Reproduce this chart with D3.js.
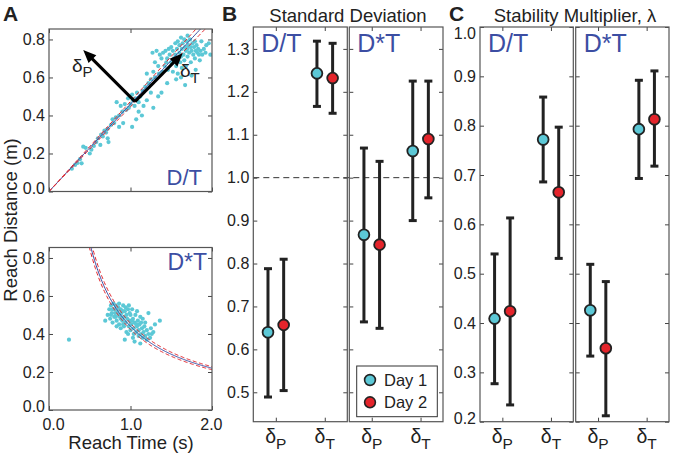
<!DOCTYPE html>
<html><head><meta charset="utf-8">
<script src="https://cdn.jsdelivr.net/npm/d3@7"></script>
<style>
body{margin:0;background:#fff;}
svg{display:block;font-family:"Liberation Sans",Arial,sans-serif;}
.tick text{font-size:16px;fill:#222;font-family:"Liberation Sans",Arial,sans-serif;}
.tick line{stroke:#444;}
</style></head>
<body><svg id="c" width="673" height="455"></svg>
<script>
// ---------- DATA ----------
// Panel A top (D/T): reach time (s), reach distance (m)
const dtPoints = [
[1.45,0.70],[1.48,0.72],[1.50,0.68],[1.52,0.74],[1.53,0.70],[1.55,0.72],[1.56,0.66],[1.57,0.75],[1.58,0.70],[1.60,0.73],
[1.60,0.77],[1.61,0.68],[1.62,0.71],[1.63,0.75],[1.64,0.78],[1.65,0.72],[1.66,0.69],[1.67,0.76],[1.68,0.74],[1.69,0.79],
[1.70,0.71],[1.70,0.75],[1.71,0.77],[1.72,0.73],[1.73,0.80],[1.74,0.76],[1.75,0.74],[1.76,0.78],[1.77,0.72],[1.78,0.76],
[1.79,0.79],[1.80,0.74],[1.81,0.77],[1.82,0.73],[1.83,0.75],[1.84,0.72],[1.86,0.74],[1.88,0.72],[1.90,0.75],[1.92,0.73],
[1.96,0.78],[1.98,0.72],[1.87,0.79],[1.58,0.79],[1.55,0.78],[1.50,0.76],[1.47,0.75],[1.43,0.74],[1.40,0.73],[1.38,0.70],
[1.36,0.72],[1.32,0.74],[1.27,0.73],[1.30,0.68],[1.34,0.66],[1.42,0.66],[1.46,0.64],[1.44,0.68],[1.39,0.63],[1.35,0.62],
[1.30,0.60],[1.25,0.59],[1.28,0.63],[1.22,0.57],[1.20,0.62],[1.18,0.55],[1.52,0.63],[1.58,0.62],[1.63,0.65],[1.68,0.66],
[1.74,0.68],[1.79,0.70],[1.75,0.61],[1.80,0.64],[1.67,0.56],[1.62,0.60],[1.38,0.52],[1.34,0.50],[1.45,0.57],[1.56,0.59],
[1.15,0.53],[1.12,0.50],[1.10,0.47],[1.08,0.52],[1.06,0.49],[1.05,0.45],[1.03,0.48],[1.02,0.51],[1.00,0.46],[0.98,0.44],
[0.97,0.49],[0.95,0.43],[0.93,0.46],[0.90,0.42],[0.88,0.45],[0.86,0.40],[0.83,0.47],[0.82,0.39],[0.80,0.36],[0.78,0.38],
[0.76,0.35],[1.02,0.34],[1.14,0.40],[1.28,0.44],[1.20,0.48],[1.16,0.45],[1.25,0.52],[1.10,0.42],[1.07,0.38],[0.91,0.36],
[0.86,0.34],[0.72,0.33],[0.73,0.26],[0.72,0.28],[0.70,0.31],[0.66,0.29],[0.63,0.245],[0.58,0.26],[0.55,0.24],[0.50,0.20],
[0.52,0.22],[0.45,0.23],[0.42,0.236],[0.40,0.148],[0.38,0.17],[0.35,0.15],[0.32,0.14],[0.28,0.12],[0.60,0.28],[0.64,0.30],[0.68,0.32],
[1.62,0.81],[1.70,0.82],[1.93,0.77],[1.85,0.69],[1.66,0.80]
];
// Panel A bottom (D*T)
const dstPoints = [
[0.245,0.37],
[0.69,0.47],[0.72,0.50],[0.74,0.53],[0.75,0.48],[0.76,0.55],[0.77,0.51],[0.78,0.46],[0.79,0.56],[0.80,0.53],[0.80,0.49],
[0.81,0.51],[0.82,0.55],[0.83,0.47],[0.84,0.52],[0.85,0.50],[0.85,0.54],[0.86,0.45],[0.87,0.49],[0.88,0.53],[0.88,0.43],
[0.89,0.51],[0.90,0.47],[0.91,0.55],[0.92,0.49],[0.92,0.44],[0.93,0.52],[0.94,0.46],[0.95,0.50],[0.95,0.41],[0.96,0.48],
[0.97,0.53],[0.98,0.44],[0.99,0.47],[1.00,0.50],[1.00,0.42],[1.01,0.45],[1.02,0.53],[1.03,0.48],[1.03,0.38],[1.04,0.43],
[1.05,0.46],[1.06,0.50],[1.07,0.41],[1.08,0.44],[1.09,0.47],[1.10,0.39],[1.10,0.42],[1.11,0.45],[1.12,0.35],[1.13,0.40],
[1.14,0.43],[1.15,0.38],[1.16,0.41],[1.17,0.44],[1.18,0.39],[1.20,0.37],[1.20,0.42],[1.22,0.40],[1.24,0.38],[1.25,0.43],
[1.28,0.41],[1.30,0.45],[1.36,0.47],[1.22,0.51],[1.15,0.48],[1.08,0.52],[0.98,0.55],[0.90,0.52],[0.83,0.44],[0.97,0.40],
[1.05,0.36],[0.93,0.37],[1.12,0.49],[1.18,0.46],[0.86,0.56],[0.78,0.53],[0.82,0.49],[0.94,0.54],[1.02,0.47],[1.07,0.45],
[1.13,0.46],[0.99,0.51],[0.88,0.48],[0.76,0.50],[1.26,0.40],[0.91,0.45],[1.04,0.40],[1.00,0.45]
];
// model lines: D = k*T (D/T) and D = c/T (D*T), with +/- bands
const dtSlopes = [0.460, 0.446, 0.474];   // centre, low, high
const dstConsts = [0.440, 0.424, 0.456];  // centre, low, high
// arrows (data coords): origin, tip P, tip T
const arrowOrigin = [1.055, 0.473];
const arrowTips = [[0.42, 0.745], [1.64, 0.727]];

const conditions = ["P", "T"]; // δP, δT
const dayLabels = ["Day 1", "Day 2"];

// Panel B: Standard Deviation
const sdDT_mean1 = [0.640, 1.243], sdDT_lo1 = [0.489, 1.166], sdDT_hi1 = [0.788, 1.318];
const sdDT_mean2 = [0.657, 1.232], sdDT_lo2 = [0.504, 1.150], sdDT_hi2 = [0.810, 1.313];
const sdDsT_mean1 = [0.867, 1.062], sdDsT_lo1 = [0.664, 0.900], sdDsT_hi1 = [1.069, 1.225];
const sdDsT_mean2 = [0.844, 1.090], sdDsT_lo2 = [0.649, 0.953], sdDsT_hi2 = [1.038, 1.225];
const sdTicks = [0.5, 0.6, 0.7, 0.8, 0.9, 1.0, 1.1, 1.2, 1.3];

// Panel C: Stability Multiplier
const lamDT_mean1 = [0.409, 0.772], lamDT_lo1 = [0.277, 0.686], lamDT_hi1 = [0.540, 0.858];
const lamDT_mean2 = [0.424, 0.665], lamDT_lo2 = [0.234, 0.531], lamDT_hi2 = [0.613, 0.797];
const lamDsT_mean1 = [0.426, 0.793], lamDsT_lo1 = [0.333, 0.693], lamDsT_hi1 = [0.519, 0.892];
const lamDsT_mean2 = [0.349, 0.813], lamDsT_lo2 = [0.212, 0.718], lamDsT_hi2 = [0.484, 0.911];
const lamTicks = [0.2, 0.3, 0.4, 0.5, 0.6, 0.7, 0.8, 0.9, 1.0];

const aYTicks = [0.0, 0.2, 0.4, 0.6, 0.8];
const aXTicks = [0.0, 1.0, 2.0];

// ---------- STYLE ----------
const CYAN = "#5cc8d6", RED = "#e4242b", BLUE = "#3c4ea3", INK = "#222", FRAME = "#555";
const svg = d3.select("#c");

function frame(g, xs, ys, opt) {
  const [x0, x1] = xs.range(), [yb, yt] = ys.range();
  const ax = (sel) => sel.select(".domain").remove();
  const ly = g.append("g").attr("transform", `translate(${x0},0)`)
    .call(d3.axisLeft(ys).tickValues(opt.yTicks).tickSize(-4).tickPadding(4)
      .tickFormat(opt.yLabels ? d3.format(".1f") : "")).call(ax);
  // keep edge labels inside the frame, as in the original
  const yd = ys.domain();
  ly.selectAll(".tick text").filter(d => Math.abs(ys(d) - yt) < 3).attr("dy", "0.72em");
  ly.selectAll(".tick text").filter(d => Math.abs(ys(d) - yb) < 3).attr("dy", "0.12em");
  g.append("g").attr("transform", `translate(${x1},0)`)
    .call(d3.axisRight(ys).tickValues(opt.yTicks).tickSize(-4).tickFormat("")).call(ax);
  const bx = g.append("g").attr("transform", `translate(0,${yb})`)
    .call(d3.axisBottom(xs).tickValues(opt.xTicks).tickSize(-4).tickPadding(9)
      .tickFormat(opt.xLabels ? d3.format(".1f") : "")).call(ax);
  g.append("g").attr("transform", `translate(0,${yt})`)
    .call(d3.axisTop(xs).tickValues(opt.xTicks).tickSize(-4).tickFormat("")).call(ax);
  g.append("rect").attr("x", x0).attr("y", yt).attr("width", x1 - x0).attr("height", yb - yt)
    .attr("fill", "none").attr("stroke", FRAME).attr("stroke-width", 1.2);
  return bx;
}

function panelLetter(x, y, t) {
  svg.append("text").attr("x", x).attr("y", y).attr("font-size", 21).attr("font-weight", "bold")
    .attr("fill", INK).text(t);
}

// ---------- PANEL A ----------
const ax = d3.scaleLinear().domain([0, 2]).range([49, 212]);
const ayTop = d3.scaleLinear().domain([0, 0.855]).range([191.5, 29]);
const ayBot = d3.scaleLinear().domain([0, 0.855]).range([410, 247.5]);

function clip(id, ys) {
  svg.append("clipPath").attr("id", id).append("rect")
    .attr("x", ax.range()[0]).attr("y", ys.range()[1])
    .attr("width", ax.range()[1] - ax.range()[0]).attr("height", ys.range()[0] - ys.range()[1]);
}
clip("clipTop", ayTop); clip("clipBot", ayBot);

const gTop = svg.append("g");
const gTopIn = gTop.append("g").attr("clip-path", "url(#clipTop)");
gTopIn.selectAll("circle").data(dtPoints).join("circle")
  .attr("cx", d => ax(d[0])).attr("cy", d => ayTop(d[1])).attr("r", 2.1).attr("fill", CYAN);
const tGrid = d3.range(0, 2.001, 0.02);
dtSlopes.forEach((k, i) => {
  gTopIn.append("path").datum(tGrid)
    .attr("d", d3.line().x(t => ax(t)).y(t => ayTop(k * t)))
    .attr("fill", "none").attr("stroke", i === 0 ? BLUE : RED).attr("stroke-width", 1)
    .attr("stroke-dasharray", i === 0 ? null : "4,2.5");
});
frame(gTop, ax, ayTop, {yTicks: aYTicks, xTicks: aXTicks, yLabels: true, xLabels: false});

// arrows
function arrow(g, from, to) {
  const x0 = ax(from[0]), y0 = ayTop(from[1]), x1 = ax(to[0]), y1 = ayTop(to[1]);
  const dx = x1 - x0, dy = y1 - y0, L = Math.hypot(dx, dy), ux = dx / L, uy = dy / L;
  const hl = 13, hw = 5.5;
  const bx = x1 - ux * hl, by = y1 - uy * hl;
  g.append("line").attr("x1", x0).attr("y1", y0).attr("x2", bx + ux * 2).attr("y2", by + uy * 2)
    .attr("stroke", "#000").attr("stroke-width", 3);
  g.append("path").attr("d", `M${x1},${y1}L${bx - uy * hw},${by + ux * hw}L${bx + uy * hw},${by - ux * hw}Z`)
    .attr("fill", "#000");
}
arrowTips.forEach(t => arrow(gTop, arrowOrigin, t));
function deltaLabel(g, x, y, sub, size, subSize, dy, anchor) {
  const t = g.append("text").attr("x", x).attr("y", y).attr("font-size", size).attr("fill", INK)
    .attr("text-anchor", anchor || "start");
  t.append("tspan").text("δ");
  t.append("tspan").attr("font-size", subSize).attr("dy", dy).text(sub);
  return t;
}
deltaLabel(gTop, 72, 72, "P", 19, 15, 5);
deltaLabel(gTop, 180, 77, "T", 19, 15, 6);
gTop.append("text").attr("x", 202).attr("y", 185).attr("text-anchor", "end")
  .attr("font-size", 22).attr("fill", BLUE).text("D/T");

const gBot = svg.append("g");
const gBotIn = gBot.append("g").attr("clip-path", "url(#clipBot)");
gBotIn.selectAll("circle").data(dstPoints).join("circle")
  .attr("cx", d => ax(d[0])).attr("cy", d => ayBot(d[1])).attr("r", 2.1).attr("fill", CYAN);
const tGrid2 = d3.range(0.4, 2.001, 0.01);
dstConsts.forEach((c, i) => {
  gBotIn.append("path").datum(tGrid2)
    .attr("d", d3.line().x(t => ax(t)).y(t => ayBot(c / t)))
    .attr("fill", "none").attr("stroke", i === 0 ? BLUE : RED).attr("stroke-width", 1)
    .attr("stroke-dasharray", i === 0 ? null : "4,2.5");
});
const bxA = frame(gBot, ax, ayBot, {yTicks: aYTicks, xTicks: aXTicks, yLabels: true, xLabels: true});
bxA.selectAll(".tick text").filter(d => d === 2).attr("text-anchor", "end").attr("dx", 10);
bxA.selectAll(".tick text").filter(d => d === 0).attr("dx", 4);
gBot.append("text").attr("x", 207).attr("y", 270).attr("text-anchor", "end")
  .attr("font-size", 23).attr("fill", BLUE).text("D*T");

svg.append("text").attr("x", 131).attr("y", 449).attr("text-anchor", "middle")
  .attr("font-size", 18.5).attr("fill", INK).text("Reach Time (s)");
svg.append("text").attr("transform", "translate(17,220) rotate(-90)").attr("text-anchor", "middle")
  .attr("font-size", 18.5).attr("fill", INK).text("Reach Distance (m)");
panelLetter(3, 21, "A");

// ---------- PANELS B & C ----------
const xDom = [0.54, 2.46];
const OFF = 0.16;

function subplot(xr, ys, yTicks, yLabels, label, m1, lo1, hi1, m2, lo2, hi2) {
  const xs = d3.scaleLinear().domain(xDom).range(xr);
  const g = svg.append("g");
  frame(g, xs, ys, {yTicks: yTicks, xTicks: [1, 2], yLabels: yLabels, xLabels: false});
  conditions.forEach((c, i) => {
    deltaLabel(g, xs(i + 1), ys.range()[0] + 21, c, 19.5, 15.5, 6, "middle");
  });
  const series = [
    {m: m1, lo: lo1, hi: hi1, off: -OFF, col: CYAN},
    {m: m2, lo: lo2, hi: hi2, off: OFF, col: RED}
  ];
  series.forEach(s => {
    const rows = s.m.map((v, i) => ({x: xs(i + 1 + s.off), m: ys(v), lo: ys(s.lo[i]), hi: ys(s.hi[i])}));
    const eg = g.append("g").attr("stroke", INK).attr("stroke-width", 3);
    eg.selectAll(".v").data(rows).join("line").attr("x1", d => d.x).attr("x2", d => d.x)
      .attr("y1", d => d.lo).attr("y2", d => d.hi);
    eg.selectAll(".ch").data(rows).join("line").attr("x1", d => d.x - 4).attr("x2", d => d.x + 4)
      .attr("y1", d => d.hi).attr("y2", d => d.hi);
    eg.selectAll(".cl").data(rows).join("line").attr("x1", d => d.x - 4).attr("x2", d => d.x + 4)
      .attr("y1", d => d.lo).attr("y2", d => d.lo);
    g.append("g").selectAll("circle").data(rows).join("circle")
      .attr("cx", d => d.x).attr("cy", d => d.m).attr("r", 5.4)
      .attr("fill", s.col).attr("stroke", INK).attr("stroke-width", 1.8);
  });
  g.append("text").attr("x", xr[0] + 8).attr("y", 52).attr("font-size", 25).attr("fill", BLUE).text(label);
  return {g, xs};
}

const ySD = d3.scaleLinear().domain([0.4315, 1.351]).range([421.7, 27]);
const refG = svg.append("g");
const bL = subplot([253.3, 347.3], ySD, sdTicks, true, "D/T", sdDT_mean1, sdDT_lo1, sdDT_hi1, sdDT_mean2, sdDT_lo2, sdDT_hi2);
const bR = subplot([349.3, 443], ySD, sdTicks, false, "D*T", sdDsT_mean1, sdDsT_lo1, sdDsT_hi1, sdDsT_mean2, sdDsT_lo2, sdDsT_hi2);
refG.append("line").attr("x1", 253.3).attr("x2", 443).attr("y1", ySD(1.0)).attr("y2", ySD(1.0))
  .attr("stroke", "#333").attr("stroke-width", 1).attr("stroke-dasharray", "6,4");

// legend
const lg = bR.g.append("g");
lg.append("rect").attr("x", 356.7).attr("y", 366).attr("width", 80.6).attr("height", 50.7)
  .attr("fill", "#fff").attr("stroke", "#333").attr("stroke-width", 1);
[CYAN, RED].forEach((c, i) => {
  lg.append("circle").attr("cx", 370).attr("cy", 380 + i * 22.3).attr("r", 5.4)
    .attr("fill", c).attr("stroke", INK).attr("stroke-width", 1.6);
  lg.append("text").attr("x", 384).attr("y", 380 + i * 22.3).attr("dy", "0.35em")
    .attr("font-size", 16.5).attr("fill", INK).text(dayLabels[i]);
});

svg.append("text").attr("x", 348).attr("y", 21.5).attr("text-anchor", "middle")
  .attr("font-size", 18.5).attr("fill", INK).text("Standard Deviation");
panelLetter(222, 21, "B");

const yLam = d3.scaleLinear().domain([0.2, 1.0]).range([421.7, 27]);
subplot([480, 573.3], yLam, lamTicks, true, "D/T", lamDT_mean1, lamDT_lo1, lamDT_hi1, lamDT_mean2, lamDT_lo2, lamDT_hi2);
subplot([575.7, 669], yLam, lamTicks, false, "D*T", lamDsT_mean1, lamDsT_lo1, lamDsT_hi1, lamDsT_mean2, lamDsT_lo2, lamDsT_hi2);
svg.append("text").attr("x", 575).attr("y", 21.5).attr("text-anchor", "middle")
  .attr("font-size", 18.5).attr("fill", INK).text("Stability Multiplier, λ");
panelLetter(449, 21, "C");
</script></body></html>
